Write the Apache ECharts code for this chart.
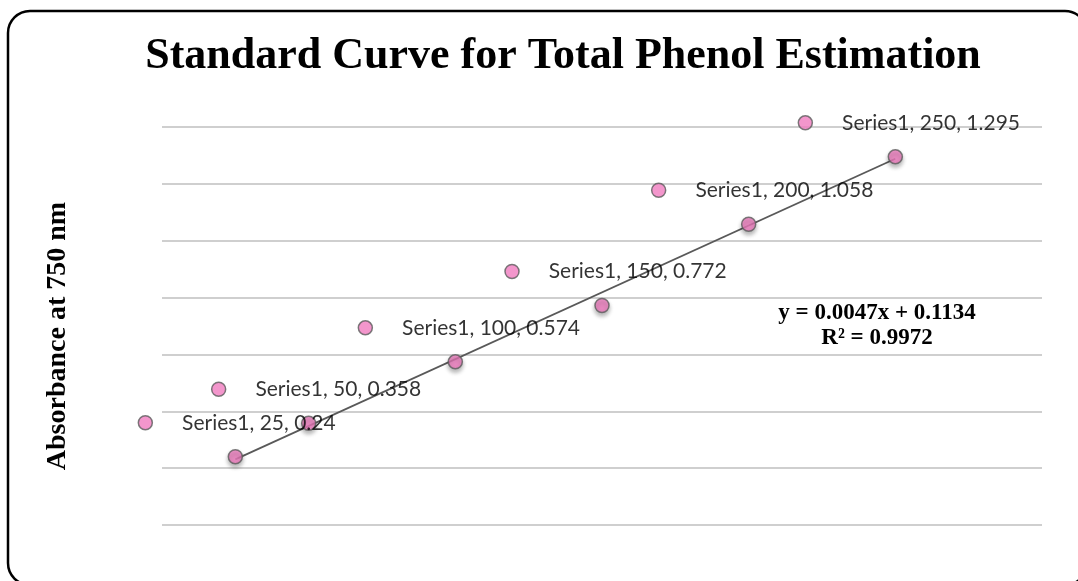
<!DOCTYPE html>
<html>
<head>
<meta charset="utf-8">
<script src="https://cdn.jsdelivr.net/npm/echarts@6/dist/echarts.min.js"></script>
<style>
  html, body { margin: 0; padding: 0; background: #fff; }
  #main { width: 1078px; height: 581px; }
</style>
</head>
<body>
<div id="main"></div>
<script>
// concentration (x) and absorbance (y)
const concentrations = [25, 50, 100, 150, 200, 250];
const absorbances = [0.24, 0.358, 0.574, 0.772, 1.058, 1.295];
const seriesName = 'Series1';

// linear trendline as printed on the chart
const slope = 0.0047;
const intercept = 0.1134;
const trendText = ['y = 0.0047x + 0.1134', 'R² = 0.9972'];

const points = concentrations.map((c, i) => [c, absorbances[i]]);
const xFirst = concentrations[0];
const xLast = concentrations[concentrations.length - 1];
const trendPoints = [[xFirst, slope * xFirst + intercept], [xLast, slope * xLast + intercept]];

const pink = '#f07cbf';
const rim = '#5b5b5b';
const serif = '"Liberation Serif", "Times New Roman", serif';

const chart = echarts.init(document.getElementById('main'));
chart.setOption({
  backgroundColor: '#fff',
  animation: false,
  grid: { left: 162, right: 36, top: 127, bottom: 56 },
  xAxis: {
    type: 'value', min: 0, max: 300,
    axisLine: { show: false }, axisTick: { show: false },
    axisLabel: { show: false }, splitLine: { show: false }
  },
  yAxis: {
    type: 'value', min: 0, max: 1.4, interval: 0.2,
    axisLine: { show: false }, axisTick: { show: false }, axisLabel: { show: false },
    splitLine: { lineStyle: { color: '#bfbfbf', width: 1.5 } }
  },
  series: [
    {
      name: 'trend',
      type: 'line',
      data: trendPoints,
      showSymbol: false,
      lineStyle: { color: '#595959', width: 1.8 },
      z: 3
    },
    {
      name: seriesName,
      type: 'scatter',
      data: points,
      symbolSize: 14,
      itemStyle: {
        color: pink, borderColor: rim, borderWidth: 1.5,
        shadowBlur: 4, shadowOffsetY: 3, shadowColor: 'rgba(0,0,0,0.35)'
      },
      z: 4
    },
    {
      name: seriesName + ' labels',
      type: 'scatter',
      data: points,
      symbolSize: 14,
      symbolOffset: [-90, -34],
      itemStyle: { color: pink, borderColor: rim, borderWidth: 1.5 },
      label: {
        show: true,
        position: 'right',
        distance: 29,
        fontFamily: 'Lato',
        fontSize: 21,
        color: '#000',
        formatter: p => seriesName + ', ' + p.value[0] + ', ' + p.value[1]
      },
      z: 5
    }
  ],
  graphic: [
    {
      type: 'rect',
      shape: { x: 8, y: 11, width: 1079, height: 574, r: 22 },
      style: { fill: 'none', stroke: '#000', lineWidth: 2.5 },
      silent: true
    },
    {
      type: 'text',
      x: 563, y: 57,
      style: {
        text: 'Standard Curve for Total Phenol Estimation',
        align: 'center', verticalAlign: 'middle',
        font: 'bold 44px ' + serif, fill: '#000'
      }
    },
    {
      type: 'text',
      x: 58, y: 336, rotation: Math.PI / 2,
      style: {
        text: 'Absorbance at 750 nm',
        align: 'center', verticalAlign: 'middle',
        font: 'bold 28px ' + serif, fill: '#000'
      }
    },
    {
      type: 'text',
      x: 877, y: 313,
      style: {
        text: trendText[0],
        align: 'center', verticalAlign: 'middle',
        font: 'bold 23px ' + serif, fill: '#000'
      }
    },
    {
      type: 'text',
      x: 877, y: 338,
      style: {
        text: trendText[1],
        align: 'center', verticalAlign: 'middle',
        font: 'bold 23px ' + serif, fill: '#000'
      }
    }
  ]
});
</script>
</body>
</html>
